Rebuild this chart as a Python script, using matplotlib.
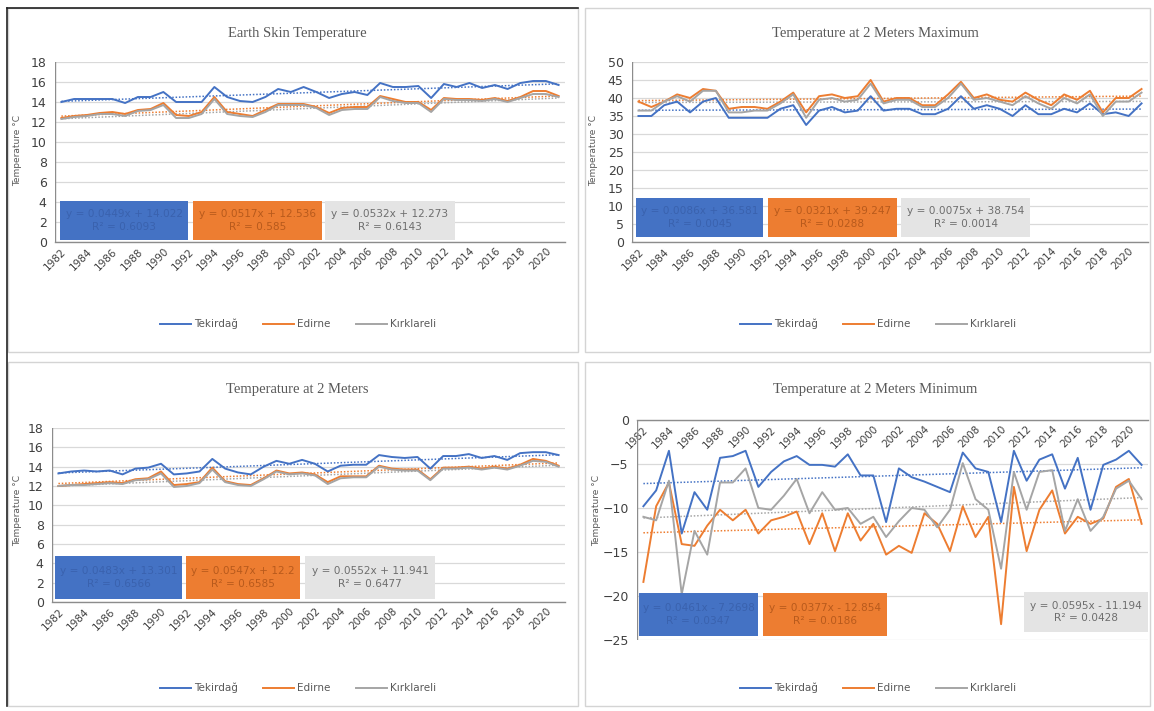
import matplotlib
matplotlib.use("Agg")
import matplotlib.pyplot as plt
import numpy as np
from matplotlib.patches import Rectangle
from matplotlib.lines import Line2D

years = list(range(1982, 2022))
series_names = ["Tekirdağ", "Edirne", "Kırklareli"]

# Earth Skin Temperature
skin_tek = [14.0, 14.3, 14.3, 14.3, 14.3, 13.9, 14.5, 14.5, 15.0, 14.0, 14.0, 14.0, 15.5, 14.5, 14.1, 14.0, 14.5, 15.3, 15.0, 15.5,
            15.0, 14.4, 14.8, 15.0, 14.7, 15.9, 15.5, 15.5, 15.6, 14.4, 15.8, 15.5, 15.9, 15.4, 15.7, 15.3, 15.9, 16.1, 16.1, 15.7]
skin_edi = [12.4, 12.6, 12.7, 12.9, 13.0, 12.8, 13.2, 13.3, 13.9, 12.7, 12.6, 13.0, 14.5, 13.0, 12.8, 12.6, 13.2, 13.8, 13.8, 13.8,
            13.5, 12.9, 13.4, 13.5, 13.5, 14.6, 14.3, 14.0, 14.0, 13.2, 14.4, 14.3, 14.3, 14.2, 14.4, 14.1, 14.5, 15.1, 15.1, 14.6]
skin_kir = [12.3, 12.5, 12.6, 12.8, 12.8, 12.6, 13.1, 13.2, 13.7, 12.4, 12.4, 12.8, 14.3, 12.8, 12.6, 12.5, 13.0, 13.7, 13.7, 13.7,
            13.4, 12.7, 13.2, 13.3, 13.3, 14.5, 14.1, 13.9, 13.9, 13.0, 14.3, 14.2, 14.2, 14.1, 14.3, 14.0, 14.4, 14.8, 14.8, 14.5]

# Temperature at 2 Meters Maximum
max_tek = [35.0, 35.0, 38.0, 39.0, 36.0, 39.0, 40.0, 34.5, 34.5, 34.5, 34.5, 37.0, 38.0, 32.5, 36.5, 37.5, 36.0, 36.5, 40.5, 36.5,
           37.0, 37.0, 35.5, 35.5, 37.0, 40.5, 37.0, 38.0, 37.0, 35.0, 38.0, 35.5, 35.5, 37.0, 36.0, 38.5, 35.5, 36.0, 35.0, 38.5]
max_edi = [39.0, 37.5, 39.0, 41.0, 40.0, 42.5, 42.0, 37.0, 37.5, 37.5, 37.0, 39.0, 41.5, 36.0, 40.5, 41.0, 40.0, 40.5, 45.0, 39.0,
           40.0, 40.0, 38.0, 38.0, 41.0, 44.5, 40.0, 41.0, 39.5, 39.0, 41.5, 39.5, 38.0, 41.0, 39.5, 42.0, 36.0, 40.0, 40.0, 42.5]
max_kir = [36.5, 36.5, 39.0, 40.5, 39.0, 42.0, 42.0, 36.0, 36.0, 36.5, 36.5, 38.5, 41.0, 34.5, 39.5, 40.0, 39.0, 39.5, 44.0, 38.5,
           39.5, 39.5, 37.5, 37.5, 40.0, 44.0, 39.5, 40.0, 39.0, 38.0, 40.5, 38.5, 37.0, 40.0, 38.5, 41.0, 35.0, 39.0, 39.0, 41.5]

# Temperature at 2 Meters
t2m_tek = [13.3, 13.5, 13.6, 13.5, 13.6, 13.2, 13.8, 13.9, 14.3, 13.2, 13.3, 13.5, 14.8, 13.8, 13.4, 13.2, 14.0, 14.6, 14.3, 14.7,
           14.3, 13.5, 14.1, 14.2, 14.2, 15.2, 15.0, 14.9, 15.0, 13.8, 15.1, 15.1, 15.3, 14.9, 15.1, 14.7, 15.4, 15.5, 15.5, 15.2]
t2m_edi = [12.0, 12.1, 12.2, 12.3, 12.4, 12.3, 12.7, 12.8, 13.5, 12.1, 12.2, 12.4, 13.9, 12.5, 12.2, 12.1, 12.8, 13.6, 13.3, 13.4,
           13.2, 12.4, 13.0, 13.0, 13.0, 14.1, 13.8, 13.7, 13.7, 12.7, 13.9, 13.9, 14.0, 13.8, 14.0, 13.8, 14.2, 14.8, 14.6, 14.1]
t2m_kir = [12.0, 12.1, 12.1, 12.2, 12.3, 12.2, 12.6, 12.7, 13.3, 11.9, 12.0, 12.3, 13.7, 12.4, 12.1, 12.0, 12.7, 13.5, 13.2, 13.3,
           13.1, 12.2, 12.8, 12.9, 12.9, 14.0, 13.7, 13.6, 13.6, 12.6, 13.8, 13.8, 13.9, 13.7, 13.9, 13.7, 14.1, 14.6, 14.5, 14.0]

# Temperature at 2 Meters Minimum
min_tek = [-9.8, -8.0, -3.5, -12.9, -8.2, -10.2, -4.3, -4.1, -3.5, -7.6, -5.9, -4.7, -4.1, -5.1, -5.1, -5.3, -3.9, -6.3, -6.3, -11.6,
           -5.5, -6.5, -7.0, -7.6, -8.2, -3.7, -5.5, -5.9, -11.6, -3.5, -6.9, -4.5, -3.9, -7.8, -4.3, -10.2, -5.1, -4.5, -3.5, -5.1]
min_edi = [-18.4, -9.8, -7.1, -14.1, -14.3, -12.0, -10.2, -11.4, -10.2, -12.9, -11.4, -11.0, -10.4, -14.1, -10.6, -14.9, -10.6, -13.7, -11.8, -15.3,
           -14.3, -15.1, -10.6, -11.8, -14.9, -9.8, -13.3, -11.0, -23.2, -7.6, -14.9, -10.2, -8.0, -12.9, -11.0, -11.8, -11.2, -7.6, -6.7, -11.8]
min_kir = [-11.0, -11.4, -6.9, -19.8, -12.6, -15.3, -7.1, -7.1, -5.5, -10.0, -10.2, -8.6, -6.7, -10.6, -8.2, -10.2, -10.0, -11.8, -11.0, -13.3,
           -11.5, -10.0, -10.2, -12.2, -10.2, -4.9, -9.0, -10.2, -16.9, -5.9, -10.2, -5.9, -5.7, -12.6, -9.0, -12.6, -11.0, -7.8, -6.9, -9.0]

# Trend-line coefficients (y = a*x + b, x = 1..40) and labels
skin_trend = [(0.0449, 14.022), (0.0517, 12.536), (0.0532, 12.273)]
skin_lbl = [("y = 0.0449x + 14.022", "R² = 0.6093"), ("y = 0.0517x + 12.536", "R² = 0.585"), ("y = 0.0532x + 12.273", "R² = 0.6143")]
max_trend = [(0.0086, 36.581), (0.0321, 39.247), (0.0075, 38.754)]
max_lbl = [("y = 0.0086x + 36.581", "R² = 0.0045"), ("y = 0.0321x + 39.247", "R² = 0.0288"), ("y = 0.0075x + 38.754", "R² = 0.0014")]
t2m_trend = [(0.0483, 13.301), (0.0547, 12.2), (0.0552, 11.941)]
t2m_lbl = [("y = 0.0483x + 13.301", "R² = 0.6566"), ("y = 0.0547x + 12.2", "R² = 0.6585"), ("y = 0.0552x + 11.941", "R² = 0.6477")]
min_trend = [(0.0461, -7.2698), (0.0377, -12.854), (0.0595, -11.194)]
min_lbl = [("y = 0.0461x - 7.2698", "R² = 0.0347"), ("y = 0.0377x - 12.854", "R² = 0.0186"), ("y = 0.0595x - 11.194", "R² = 0.0428")]

titles = ["Earth Skin Temperature", "Temperature at 2 Meters Maximum",
          "Temperature at 2 Meters", "Temperature at 2 Meters Minimum"]

colors = ["#4472C4", "#ED7D31", "#A5A5A5"]
box_face = ["#4472C4", "#ED7D31", "#E4E4E4"]
box_text = ["#3A62AE", "#B85A1C", "#6E6E6E"]

W, H = 1154, 711
fig = plt.figure(figsize=(W / 100, H / 100), dpi=100)
fig.patch.set_facecolor("white")


def fx(x):
    return x / W


def fy(y):
    return 1 - y / H


def add_axes_px(x0, y0, x1, y1):
    return fig.add_axes([fx(x0), fy(y1), (x1 - x0) / W, (y1 - y0) / H])


def box(x0, y0, x1, y1, face, tcol, lines):
    fig.add_artist(Rectangle((fx(x0), fy(y1)), (x1 - x0) / W, (y1 - y0) / H,
                             transform=fig.transFigure, facecolor=face,
                             edgecolor="none", zorder=5))
    fig.text(fx((x0 + x1) / 2), fy((y0 + y1) / 2), lines[0] + "\n" + lines[1],
             ha="center", va="center", fontsize=7.6, color=tcol,
             linespacing=1.35, zorder=6, family="DejaVu Sans")


# panel frames
for (x0, y0, x1, y1) in [(8, 8, 578, 352), (585, 8, 1150, 352),
                         (8, 362, 578, 706), (585, 362, 1150, 706)]:
    fig.add_artist(Rectangle((fx(x0), fy(y1)), (x1 - x0) / W, (y1 - y0) / H,
                             transform=fig.transFigure, facecolor="white",
                             edgecolor="#D4D4D4", lw=1.0, zorder=-5))
fig.add_artist(Line2D([fx(7), fx(7)], [fy(8), fy(706)], transform=fig.transFigure,
                      color="#222222", lw=1.2))
fig.add_artist(Line2D([fx(7), fx(578)], [fy(8), fy(8)], transform=fig.transFigure,
                      color="#222222", lw=1.2))

panels = [
    dict(data=[skin_tek, skin_edi, skin_kir], trend=skin_trend, lbl=skin_lbl,
         ax=(55, 62, 565, 242), ylim=(0, 18), step=2,
         title=(297, 33), legend=(298, 324), ylabel=(18, 150),
         boxes=[(60, 201, 188, 240), (193, 201, 322, 240), (325, 201, 455, 240)]),
    dict(data=[max_tek, max_edi, max_kir], trend=max_trend, lbl=max_lbl,
         ax=(632, 62, 1148, 242), ylim=(0, 50), step=5,
         title=(875, 33), legend=(878, 324), ylabel=(594, 150),
         boxes=[(636, 198, 763, 237), (768, 198, 897, 237), (901, 198, 1030, 237)]),
    dict(data=[t2m_tek, t2m_edi, t2m_kir], trend=t2m_trend, lbl=t2m_lbl,
         ax=(52, 428, 565, 602), ylim=(0, 18), step=2,
         title=(297, 390), legend=(298, 688), ylabel=(18, 510),
         boxes=[(55, 556, 182, 599), (186, 556, 300, 599), (305, 556, 435, 599)]),
    dict(data=[min_tek, min_edi, min_kir], trend=min_trend, lbl=min_lbl,
         ax=(637, 420, 1148, 640), ylim=(-25, 0), step=5,
         title=(875, 390), legend=(878, 688), ylabel=(597, 510),
         boxes=[(639, 593, 758, 636), (763, 593, 887, 636), (1024, 592, 1148, 632)]),
]

x = np.arange(len(years))
tick_pos = x[::2]
tick_lbl = [str(y) for y in years[::2]]

for i, p in enumerate(panels):
    ax = add_axes_px(*p["ax"])
    ax.set_facecolor("none")
    for k in range(3):
        ax.plot(x, p["data"][k], color=colors[k], lw=1.4, label=series_names[k], zorder=3)
        a, b = p["trend"][k]
        ax.plot(x, a * (x + 1) + b, color=colors[k], lw=1.1, ls=(0, (1, 1.2)), zorder=2)
    ax.set_xlim(-0.5, len(years) - 0.5)
    ax.set_ylim(*p["ylim"])
    ax.set_yticks(np.arange(p["ylim"][0], p["ylim"][1] + 0.1, p["step"]))
    ax.yaxis.grid(True, color="#D9D9D9", lw=0.9)
    ax.set_axisbelow(True)
    for s in ["top", "right", "left"]:
        ax.spines[s].set_visible(False)
    ax.spines["bottom"].set_color("#8C8C8C")
    ax.spines["bottom"].set_linewidth(1.0)
    if i == 3:
        ax.spines["bottom"].set_position(("data", 0))
    ax.add_artist(Line2D([0, 0], [0, 1], transform=ax.transAxes, color="#8C8C8C", lw=1.0))
    ax.set_xticks(tick_pos)
    ax.set_xticklabels(tick_lbl, rotation=45, ha="right", va="top",
                       rotation_mode="anchor", fontsize=7.5, color="#404040")
    ax.tick_params(axis="x", length=0, pad=3)
    ax.tick_params(axis="y", length=0, labelsize=9, labelcolor="#404040", pad=6)
    fig.text(fx(p["title"][0]), fy(p["title"][1]), titles[i], ha="center", va="center",
             fontsize=10.5, color="#595959", family="Liberation Serif")
    fig.text(fx(p["ylabel"][0]), fy(p["ylabel"][1]), "Temperature °C", ha="center",
             va="center", rotation=90, fontsize=6.5, color="#595959")
    for k in range(3):
        box(*p["boxes"][k], box_face[k], box_text[k], p["lbl"][k])
    handles = [Line2D([], [], color=colors[k], lw=1.4) for k in range(3)]
    leg = fig.legend(handles, series_names, loc="center",
                     bbox_to_anchor=(fx(p["legend"][0]), fy(p["legend"][1])),
                     bbox_transform=fig.transFigure, ncol=3, frameon=False,
                     fontsize=7.5, handlelength=3.0, columnspacing=2.4, handletextpad=0.3)
    for t in leg.get_texts():
        t.set_color("#595959")

fig.savefig("out.png", dpi=100)
